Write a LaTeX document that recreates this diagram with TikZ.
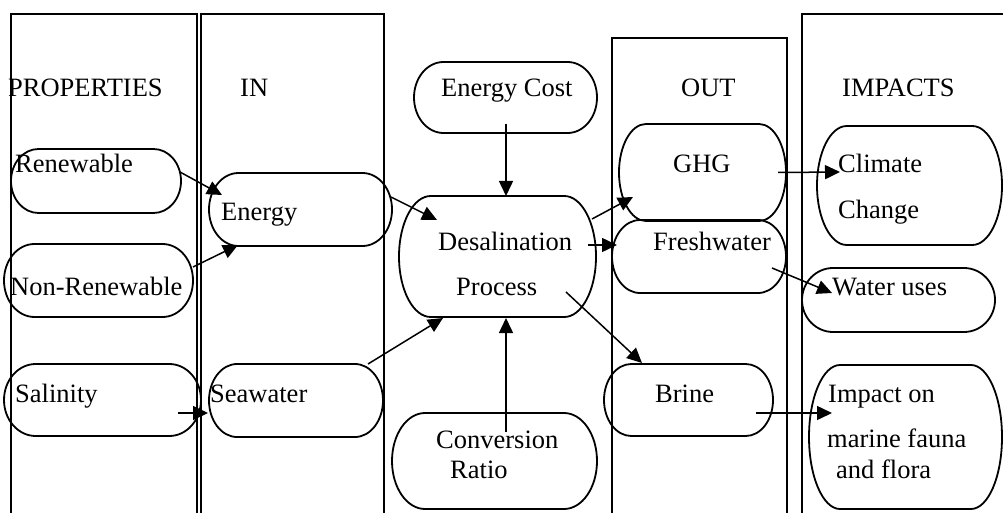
\documentclass[tikz,border=0pt]{standalone}
\usepackage{fontspec}
\setmainfont{Liberation Serif}
\usetikzlibrary{arrows.meta,calc}

% terminator outline: flat top and bottom, elliptical ends
\newcommand\termframe[1]{%
  \draw[boxline] let \p1=(#1.north west), \p2=(#1.south east),
     \n1={0.161*(\x2-\x1)}, \n2={0.5*(\y1-\y2)} in
     ({\x1+\n1},\y1) -- ({\x2-\n1},\y1)
     arc[start angle=90, end angle=-90, x radius=\n1, y radius=\n2]
     -- ({\x1+\n1},\y2)
     arc[start angle=270, end angle=90, x radius=\n1, y radius=\n2] -- cycle;}

\tikzset{
  term/.style 2 args={rectangle, draw=none, inner sep=0pt, outer sep=0pt,
    minimum width=#1pt, minimum height=#2pt},
  boxline/.style={line width=1.8pt},
  colline/.style={line width=2pt},
  flow/.style={line width=1.5pt, -{Triangle[length=15pt,width=14pt]}},
  lbl/.style={anchor=base west, inner sep=0pt, font=\fontsize{26.5}{30}\selectfont},
}

\begin{document}
\begin{tikzpicture}[x=1pt, y=-1pt]
\useasboundingbox (0,0) rectangle (1003,513);
\clip (0,0) rectangle (1003,513);

% column frames, open at the bottom
\draw[colline] (11,530) -- (11,14) -- (196.5,14) -- (196.5,530);
\draw[colline] (201,530) -- (201,14) -- (384,14) -- (384,530);
\draw[colline] (612,530) -- (612,38) -- (786.5,38) -- (786.5,530);
\draw[colline] (801.5,530) -- (801.5,14) -- (1010,14);

% column headings
\node[lbl] (hprop) at (8,97) {PROPERTIES};
\node[lbl] (hin) at (240,97) {IN};
\node[lbl] (hout) at (681,97) {OUT};
\node[lbl] (himp) at (842,97) {IMPACTS};

% boxes
\node[term={170}{64}]  (ren)     at (96,181) {};
\node[term={189}{73}]  (nonren)  at (98.5,280.5) {};
\node[term={197}{72}]  (sal)     at (102.5,400) {};
\node[term={183}{73}]  (energy)  at (300.5,209.5) {};
\node[term={174}{73}]  (sea)     at (296,400.5) {};
\node[term={183}{71}]  (ecost)   at (505.5,97.5) {};
\node[term={197}{121}] (desal)   at (497.5,256.5) {};
\node[term={205}{96}]  (conv)    at (494.5,461) {};
\node[term={167}{97}]  (ghg)     at (702.5,172.5) {};
\node[term={174}{73}]  (fresh)   at (699,256.5) {};
\node[term={169}{72}]  (brine)   at (688.5,400) {};
\node[term={185}{119}] (climate) at (909.5,185.5) {};
\node[term={193}{64}]  (wuses)   at (898.5,300) {};
\node[term={193}{144}] (impact)  at (905.5,437) {};

\foreach \b in {ren,nonren,sal,energy,sea,ecost,desal,conv,ghg,fresh,brine,climate,wuses,impact}
  {\termframe{\b}}

% box texts
\node[lbl] (tren)     at (15,172)  {Renewable};
\node[lbl] (tnonren)  at (10,295)  {Non-Renewable};
\node[lbl] (tsal)     at (15,402)  {Salinity};
\node[lbl] (tenergy)  at (221,220) {Energy};
\node[lbl] (tsea)     at (210,402) {Seawater};
\node[lbl] (tecost)   at (441,97)  {Energy Cost};
\node[lbl] (tdesal1)  at (438,250) {Desalination};
\node[lbl] (tdesal2)  at (456,295) {Process};
\node[lbl] (tconv1)   at (436,448) {Conversion};
\node[lbl] (tconv2)   at (450,478) {Ratio};
\node[lbl] (tghg)     at (673,173) {GHG};
\node[lbl] (tfresh)   at (653,250) {Freshwater};
\node[lbl] (tbrine)   at (655,402) {Brine};
\node[lbl] (tclim1)   at (838,173) {Climate};
\node[lbl] (tclim2)   at (838,218) {Change};
\node[lbl] (twuses)   at (832,295) {Water uses};
\node[lbl] (timp1)    at (828,402) {Impact on};
\node[lbl] (timp2)    at (827,447) {marine fauna};
\node[lbl] (timp3)    at (836,478) {and flora};

% connectors
\draw[flow] ($(ren.east)+(-1,-9)$) -- ($(energy.west)+(13,-14.5)$);
\draw[flow] ($(nonren.east)+(0,-13.5)$) -- ($(energy.south west)+(29,-1)$);
\draw[flow] ($(sal.east)+(-23,13)$) -- ($(sea.west)+(-1,12.5)$);
\draw[flow] ($(energy.east)+(-1,-12.5)$) -- ($(desal.north west)+(38,24)$);
\draw[flow] ($(sea.north east)+(-15,0)$) -- ($(desal.south west)+(44,1)$);
\draw[flow] ($(ecost.south)+(0.5,-9)$) -- ($(desal.north)+(8.5,0)$);
\draw[flow] ($(conv.north)+(11.5,19)$) -- ($(desal.south)+(8.5,1)$);
\draw[flow] ($(desal.north east)+(-4,23)$) -- ($(ghg.south west)+(14,-24)$);
\draw[flow] ($(desal.east)+(-8,-11.5)$) -- ($(fresh.west)+(5,-11.5)$);
\draw[flow] ($(desal.south east)+(-30,-25)$) -- ($(brine.north west)+(38,-1)$);
\draw[flow] ($(ghg.east)+(-8,0)$) -- ($(climate.west)+(23,-13.5)$);
\draw[flow] ($(fresh.east)+(-14,11.5)$) -- ($(wuses.west)+(30,-7)$);
\draw[flow] ($(brine.east)+(-17,13)$) -- ($(impact.west)+(23,-24)$);
\end{tikzpicture}
\end{document}
